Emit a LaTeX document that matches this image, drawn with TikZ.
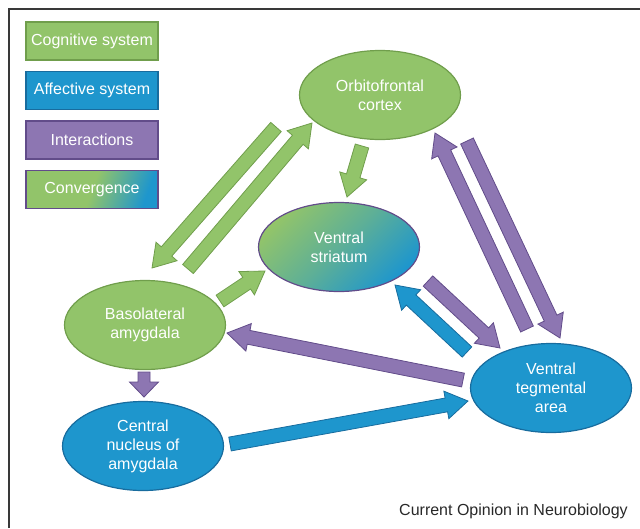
\documentclass[tikz,border=0pt]{standalone}
\usepackage{fontspec}
\setmainfont{Liberation Sans}
\usepackage{xcolor}
\usetikzlibrary{shapes,arrows,positioning,calc,arrows.meta,shapes.geometric}

\definecolor{cogfill}{RGB}{146,196,106}
\definecolor{cogline}{RGB}{112,158,76}
\definecolor{afffill}{RGB}{30,150,205}
\definecolor{affline}{RGB}{24,108,158}
\definecolor{intfill}{RGB}{141,118,178}
\definecolor{intline}{RGB}{98,76,138}
\definecolor{footgray}{RGB}{40,40,40}

\newcommand{\nodefont}{\fontsize{16}{19}\selectfont}

% block arrow sizes
\tikzset{
    shaft w/.store in=\shaftw, head w/.store in=\headw, head l/.store in=\headl,
    shaft w=14pt, head w=28pt, head l=22pt
}

% filled block arrow from #2 to #3
\newcommand{\blockarrow}[3][]{%
  \path[#1] let \p1=(#2), \p2=(#3),
      \n1={atan2((\y2)-(\y1),(\x2)-(\x1))},
      \n2={veclen((\x2)-(\x1),(\y2)-(\y1))-\headl} in
    ($(\p1)+(\n1+90:\shaftw/2)$)
    -- ($(\p1)+(\n1:\n2)+(\n1+90:\shaftw/2)$)
    -- ($(\p1)+(\n1:\n2)+(\n1+90:\headw/2)$)
    -- (\p2)
    -- ($(\p1)+(\n1:\n2)+(\n1-90:\headw/2)$)
    -- ($(\p1)+(\n1:\n2)+(\n1-90:\shaftw/2)$)
    -- ($(\p1)+(\n1-90:\shaftw/2)$)
    -- cycle;}

\begin{document}
\begin{tikzpicture}[
    x=1pt, y=1pt,
    ell/.style={ellipse, minimum width=161pt, minimum height=89pt, inner sep=0pt,
        line width=1.2pt, text=white, align=center, font=\nodefont},
    cog/.style={ell, fill=cogfill, draw=cogline},
    aff/.style={ell, fill=afffill, draw=affline},
    conv/.style={ell, draw=intline, top color=cogfill, bottom color=afffill,
        middle color=cogfill!55!afffill, shading angle=45},
    leg/.style={rectangle, minimum width=132pt, minimum height=38pt, inner sep=0pt,
        line width=1.4pt, text=white, font=\nodefont},
    cogarrow/.style={fill=cogfill, draw=cogline, line width=0.8pt},
    affarrow/.style={fill=afffill, draw=affline, line width=0.8pt},
    intarrow/.style={fill=intfill, draw=intline, line width=0.8pt}
]
    \useasboundingbox (0,0) rectangle (640,-528);
    \draw[line width=2pt, gray!45!black] (9,-528) -- (9,-9) -- (640,-9);

    % legend
    \node[leg, fill=cogfill, draw=cogline] (legcog) at (92,-41) {Cognitive system};
    \node[leg, fill=afffill, draw=affline, below=10pt of legcog] (legaff) {Affective system};
    \node[leg, fill=intfill, draw=intline, below=10pt of legaff] (legint) {Interactions};
    \node[leg, draw=intline, left color=cogfill, right color=afffill,
        middle color=cogfill, shading angle=70, below=10pt of legint] (legconv) {Convergence};

    % regions
    \node[cog] (ofc) at (380,-95) {Orbitofrontal\\cortex};
    \node[conv] (vs) at (339,-247) {Ventral\\striatum};
    \node[cog] (bla) at (145,-325) {Basolateral\\amygdala};
    \node[aff] (cea) at (143,-446) {Central\\nucleus of\\amygdala};
    \node[aff] (vta) at (551,-388) {Ventral\\tegmental\\area};

    % cognitive
    \blockarrow[cogarrow]{$(ofc)+(-104,-32)$}{$(bla)+(7,57)$}
    \blockarrow[cogarrow]{$(bla)+(43,56)$}{$(ofc)+(-68,-28)$}
    \blockarrow[cogarrow]{$(ofc)+(-18,-51)$}{$(vs)+(8,50)$}
    \blockarrow[cogarrow]{$(bla)+(75,24)$}{$(vs)+(-74,-24)$}

    % interactions
    \blockarrow[intarrow, shaft w=12pt, head w=29pt, head l=15pt]{$(bla)+(-1,-47)$}{$(cea)+(1,49)$}
    \blockarrow[intarrow]{$(vta)+(-88,8)$}{$(bla)+(82,-8)$}
    \blockarrow[intarrow]{$(vs)+(89,-34)$}{$(vta)+(-51,40)$}
    \blockarrow[intarrow]{$(vta)+(-24,59)$}{$(ofc)+(55,-38)$}
    \blockarrow[intarrow]{$(ofc)+(87,-46)$}{$(vta)+(9,50)$}

    % affective
    \blockarrow[affarrow]{$(vta)+(-84,36)$}{$(vs)+(56,-38)$}
    \blockarrow[affarrow]{$(cea)+(87,2)$}{$(vta)+(-83,-13)$}

    \node[anchor=east, inner sep=0pt, text=footgray, font=\nodefont] (src) at (628,-511)
        {Current Opinion in Neurobiology};
\end{tikzpicture}
\end{document}
